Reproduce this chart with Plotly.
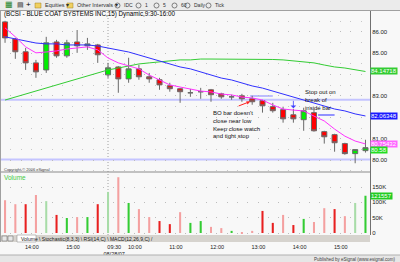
import plotly.graph_objects as go

# ---------------- data ----------------
bar_idx = list(range(36))
opens = [86.47, 85.67, 85.07, 84.55, 84.22, 85.53, 84.88, 85.53, 85.35, 85.39,
         83.99, 84.36, 83.80, 84.27, 83.90, 83.76, 83.48, 83.34, 83.15, 83.20,
         83.29, 83.10, 82.96, 83.01, 82.87, 82.78, 82.50, 82.36, 82.12, 81.89,
         82.22, 81.33, 81.19, 80.77, 80.30, 80.44]
highs = [86.52, 85.72, 85.25, 84.69, 85.77, 85.63, 85.63, 86.09, 85.72, 85.44,
         84.55, 84.40, 84.79, 84.46, 84.08, 83.85, 83.62, 83.38, 83.33, 83.38,
         83.33, 83.15, 83.06, 83.10, 83.01, 82.82, 82.68, 82.50, 82.40, 82.45,
         82.36, 81.37, 81.23, 80.81, 80.49, 80.95]
lows = [85.49, 84.74, 84.22, 83.85, 84.08, 84.79, 84.79, 85.02, 85.16, 84.55,
        83.85, 83.15, 83.62, 83.76, 83.62, 83.29, 83.20, 82.68, 82.96, 82.87,
        82.73, 82.87, 82.82, 82.73, 82.59, 82.22, 82.22, 81.75, 81.75, 81.37,
        81.33, 80.77, 80.39, 80.25, 79.85, 80.35]
closes = [85.72, 85.07, 84.55, 84.13, 85.49, 84.88, 85.49, 85.35, 85.44, 84.93,
          84.32, 83.80, 84.27, 83.90, 83.80, 83.52, 83.34, 83.20, 83.15, 83.20,
          83.06, 82.96, 82.96, 82.87, 82.73, 82.54, 82.31, 81.93, 81.93, 82.31,
          81.37, 81.09, 80.81, 80.30, 80.49, 80.58]
ma_fast = [86.19, 85.77, 85.30, 85.02, 85.06, 85.11, 85.20, 85.25, 85.30, 85.16,
           84.78, 84.55, 84.41, 84.27, 83.98, 83.75, 83.52, 83.42, 83.33, 83.23,
           83.19, 83.09, 83.05, 82.95, 82.91, 82.81, 82.58, 82.39, 82.34, 82.30,
           82.06, 81.83, 81.45, 81.12, 80.89, 80.75432]
ma_mid = [85.77, 85.67, 85.58, 85.48, 85.44, 85.44, 85.39, 85.39, 85.39, 85.34,
          85.25, 85.16, 85.06, 84.92, 84.78, 84.64, 84.50, 84.36, 84.27, 84.12,
          83.98, 83.84, 83.75, 83.61, 83.47, 83.37, 83.23, 83.09, 82.95, 82.81,
          82.67, 82.53, 82.39, 82.30, 82.16, 82.06348]
ma_slow = [82.81, 82.95, 83.09, 83.23, 83.37, 83.52, 83.66, 83.80, 83.94, 84.08,
           84.22, 84.31, 84.41, 84.50, 84.55, 84.59, 84.64, 84.69, 84.69, 84.73,
           84.73, 84.73, 84.73, 84.73, 84.73, 84.73, 84.71, 84.69, 84.64, 84.59,
           84.55, 84.45, 84.36, 84.31, 84.22, 84.14718]
volume = [107000, 94000, 94000, 124000, 104000, 59000, 49000, 52000, 52000, 94000,
          134000, 182000, 98000, 78000, 52000, 39000, 29000, 68000, 33000, 39000,
          20000, 16000, 7000, 2000, 7000, 72000, 33000, 59000, 26000, 46000,
          36000, 81000, 78000, 55000, 98000, 121557]
vol_shade = ["light", "light", "dark", "light", "light", "dark", "dark", "light", "dark", "dark",
             "light", "light", "dark", "light", "light", "dark", "dark", "light", "dark", "dark",
             "light", "light", "dark", "light", "light", "dark", "dark", "light", "dark", "dark",
             "light", "light", "dark", "light", "light", "dark"]
tick_bars = [2, 6, 10, 12, 16, 20, 24, 28, 32]
tick_text = ["14:00", "15:00", "09:30<br>08/28/07", "10:00", "11:00", "12:00", "13:00", "14:00", "15:00"]
price_ticks = [80, 81, 82, 83, 84, 85, 86]
price_half = [79.5, 80.5, 81.5, 82.5, 83.5, 84.5, 85.5, 86.5]
vol_ticks = [0, 50000, 100000, 150000]
vol_tick_text = ["0", "50K", "100K", "150K"]
support_levels = [82.82, 80.02]
bo_level = 83.0
stop_level = 82.11
day_start_bar = 10

# ---------------- helpers ----------------
W, H = 400, 262
def PX(x):
    return x / W
def PY(y):
    return 1 - y / H

FONT = "Liberation Sans"
XR = PX(370)

fig = go.Figure()

fig.add_trace(go.Candlestick(
    x=bar_idx, open=opens, high=highs, low=lows, close=closes,
    increasing=dict(line=dict(color="#6a6a6a", width=1), fillcolor="#00ee00"),
    decreasing=dict(line=dict(color="#6a6a6a", width=1), fillcolor="#ff0000"),
    whiskerwidth=0, xaxis="x", yaxis="y", hoverinfo="skip", showlegend=False))

fig.add_trace(go.Scatter(x=bar_idx, y=ma_slow, mode="lines",
                         line=dict(color="#33cc33", width=1), xaxis="x", yaxis="y",
                         hoverinfo="skip", showlegend=False))
fig.add_trace(go.Scatter(x=bar_idx, y=ma_mid, mode="lines",
                         line=dict(color="#3030ff", width=1), xaxis="x", yaxis="y",
                         hoverinfo="skip", showlegend=False))
fig.add_trace(go.Scatter(x=bar_idx, y=ma_fast, mode="lines",
                         line=dict(color="#ff33ff", width=1), xaxis="x", yaxis="y",
                         hoverinfo="skip", showlegend=False))

vol_colors = []
for o, c, s in zip(opens, closes, vol_shade):
    up = c >= o
    if up:
        vol_colors.append("#33cc33" if s == "dark" else "#a8dca8")
    else:
        vol_colors.append("#e82020" if s == "dark" else "#f4a0a0")
fig.add_trace(go.Bar(x=bar_idx, y=volume, marker=dict(color=vol_colors, line=dict(width=0)),
                     width=0.2, xaxis="x2", yaxis="y2", hoverinfo="skip", showlegend=False))

shapes = []
# toolbar
shapes.append(dict(type="rect", xref="paper", yref="paper", x0=0, x1=1, y0=PY(10.5), y1=1,
                   fillcolor="#ebebeb", line=dict(width=0), layer="above"))
shapes.append(dict(type="line", xref="paper", yref="paper", x0=0, x1=1, y0=PY(10.5), y1=PY(10.5),
                   line=dict(color="#a0a0a0", width=1), layer="above"))
# tab bar
shapes.append(dict(type="rect", xref="paper", yref="paper", x0=0, x1=XR, y0=PY(242), y1=PY(235),
                   fillcolor="#d6d3ce", line=dict(width=0), layer="above"))
shapes.append(dict(type="rect", xref="paper", yref="paper", x0=PX(17), x1=PX(36), y0=PY(242), y1=PY(235),
                   fillcolor="#ffffff", line=dict(color="#808080", width=0.5), layer="above"))
for bx in (2, 8):
    shapes.append(dict(type="rect", xref="paper", yref="paper", x0=PX(bx), x1=PX(bx + 5), y0=PY(241), y1=PY(236),
                       fillcolor="#e8e8e8", line=dict(color="#606060", width=0.5), layer="above"))
# bottom strip
shapes.append(dict(type="rect", xref="paper", yref="paper", x0=0, x1=1, y0=0, y1=PY(255),
                   fillcolor="#e6e6e6", line=dict(width=0), layer="above"))
shapes.append(dict(type="line", xref="paper", yref="paper", x0=0, x1=1, y0=PY(255), y1=PY(255),
                   line=dict(color="#b0b0b0", width=1), layer="above"))
# panel separator
shapes.append(dict(type="line", xref="paper", yref="paper", x0=0, x1=XR, y0=PY(172), y1=PY(172),
                   line=dict(color="#8a8a8a", width=1.2), layer="above"))
# left border
shapes.append(dict(type="line", xref="paper", yref="paper", x0=PX(0.5), x1=PX(0.5), y0=PY(242), y1=PY(11),
                   line=dict(color="#a0a0a0", width=1), layer="above"))
# day separator
shapes.append(dict(type="line", xref="x", yref="paper", x0=day_start_bar, x1=day_start_bar,
                   y0=PY(235), y1=PY(11), line=dict(color="#a0a0a0", width=1, dash="1px,2px"),
                   layer="below"))
# support lines
for lv in support_levels:
    shapes.append(dict(type="line", xref="paper", yref="y", x0=0, x1=XR, y0=lv, y1=lv,
                       line=dict(color="#c4c4ff", width=2), layer="below"))
shapes.append(dict(type="line", xref="x", yref="y", x0=23.8, x1=26.0, y0=bo_level, y1=bo_level,
                   line=dict(color="#a8a8ff", width=1.5), layer="below"))
shapes.append(dict(type="line", xref="x", yref="y", x0=30.4, x1=32.0, y0=stop_level, y1=stop_level,
                   line=dict(color="#7070ff", width=1.5), layer="below"))

ann = []
def txt(x, y, t, size=6, color="#101010", xanchor="left", yanchor="middle", **kw):
    d = dict(xref="paper", yref="paper", x=PX(x), y=PY(y), text=t, showarrow=False,
             xanchor=xanchor, yanchor=yanchor, font=dict(family=FONT, size=size, color=color))
    d.update(kw)
    ann.append(d)

# toolbar items
txt(3, 5, "▦", size=8, color="#208020")
txt(15, 5, "▤", size=7, color="#404040")
txt(24, 5, "+", size=8, color="#000000")
for fx, label in [(35, "Equities ▾"), (67, "Other Intervals ▾")]:
    shapes.append(dict(type="rect", xref="paper", yref="paper", x0=PX(fx), x1=PX(fx + 6), y0=PY(8), y1=PY(3),
                       fillcolor="#f0d060", line=dict(color="#a08020", width=0.5), layer="above"))
    txt(fx + 8, 5.3, label, size=5.5, color="#303030")
for cx, label in [(115, "IDC"), (136, "1"), (154, "5"), (172, "60"), (185, "Daily"), (206, "Tick")]:
    shapes.append(dict(type="circle", xref="paper", yref="paper", x0=PX(cx), x1=PX(cx + 5), y0=PY(8), y1=PY(3),
                       fillcolor="rgba(0,0,0,0)", line=dict(color="#505050", width=0.7), layer="above"))
    txt(cx + 6.5, 5.3, label, size=5, color="#303030")

# title and panel labels
txt(2, 14.5, "(BCSI - BLUE COAT SYSTEMS INC,15) Dynamic,9:30-16:00", size=6.3, color="#000000")
txt(2, 169, "Copyright © 2006 eSignal", size=4, color="#404040")
txt(2, 177.5, "Volume", size=6.5, color="#44cc44")
txt(19, 238.7, "Volume \\ Stochastic(8,3,3) \\ RSI(14,C) \\ MACD(12,26,9,C) /", size=5, color="#202020")
txt(398, 259, "Published by eSignal (www.esignal.com)", size=4.5, color="#404040", xanchor="right")

# commentary
txt(211, 108, "BO bar doesn't<br>close near low<br>Keep close watch<br>and tight stop",
    size=6, color="#111111", yanchor="top", align="left")
txt(303, 87, "Stop out on<br>break of<br>inside bar", size=6, color="#111111", yanchor="top", align="left")

# arrows
ann.append(dict(xref="x", yref="y", x=23.8, y=82.74, ax=-13, ay=5, axref="pixel", ayref="pixel",
                text="", showarrow=True, arrowhead=2, arrowsize=0.7, arrowwidth=1, arrowcolor="#ff2020"))
ann.append(dict(xref="x", yref="y", x=28, y=82.42, ax=0, ay=-9, text="", showarrow=True,
                arrowhead=1, arrowsize=1.2, arrowwidth=0.8, arrowcolor="#4040ff"))

# right-side value tags
def tag(val, text, yref, bg, fc="#ffffff"):
    ann.append(dict(xref="paper", yref=yref, x=XR, y=val, text=text, showarrow=False,
                    xanchor="left", yanchor="middle", bgcolor=bg, borderpad=0,
                    font=dict(family=FONT, size=6, color=fc)))
tag(ma_slow[-1], f"{ma_slow[-1]:.5f}", "y", "#33cc33")
tag(ma_mid[-1], f"{ma_mid[-1]:.5f}", "y", "#1a1aff")
tag(ma_fast[-1], f"{ma_fast[-1]:.5f}", "y", "#ff66ff")
tag(closes[-1] - 0.1, f"{closes[-1]:.2f}", "y", "#22dd22")
tag(volume[-1], f"{volume[-1]}", "y2", "#22cc22")

# price tick labels hidden under the 84 / 82 value tags in the original
price_text = ["" if v in (82, 84) else f"{v:.2f}" for v in price_ticks]

fig.update_layout(
    width=W, height=H, margin=dict(l=0, r=0, t=0, b=0),
    paper_bgcolor="#f8f8f8", plot_bgcolor="#f8f8f8",
    showlegend=False, hovermode=False, boxgap=0.3,
    font=dict(family=FONT, size=6, color="#202020"),
    xaxis=dict(domain=[0, XR], range=[-0.49, 35.44], anchor="y", showticklabels=False,
               showgrid=False, zeroline=False, ticks="", rangeslider=dict(visible=False)),
    yaxis=dict(domain=[PY(172), PY(11)], range=[79.44, 86.98], side="right", anchor="x",
               tickvals=price_ticks, ticktext=price_text,
               tickfont=dict(family=FONT, size=6, color="#202020"), ticks="",
               showgrid=True, gridcolor="#bcbcbc", griddash="1px,9.3px", gridwidth=1,
               minor=dict(tickvals=price_half, showgrid=True, gridcolor="#c8c8c8",
                          griddash="1px,9.3px", gridwidth=1),
               showline=True, linecolor="#707070", linewidth=1, zeroline=False),
    xaxis2=dict(domain=[0, XR], matches="x", anchor="y2", tickvals=[b + 0.6 for b in tick_bars],
                ticktext=tick_text, tickangle=0, tickfont=dict(family=FONT, size=5.5, color="#202020"),
                ticks="", ticklabelstandoff=7, showgrid=False, zeroline=False),
    yaxis2=dict(domain=[PY(235), PY(172)], range=[-6500, 199000], side="right", anchor="x2",
                tickvals=vol_ticks, ticktext=vol_tick_text,
                tickfont=dict(family=FONT, size=6, color="#202020"), ticks="",
                showgrid=True, gridcolor="#bcbcbc", griddash="1px,9.3px",
                showline=True, linecolor="#707070", linewidth=1, zeroline=False),
    shapes=shapes, annotations=ann,
)

fig.write_html("out.html")
